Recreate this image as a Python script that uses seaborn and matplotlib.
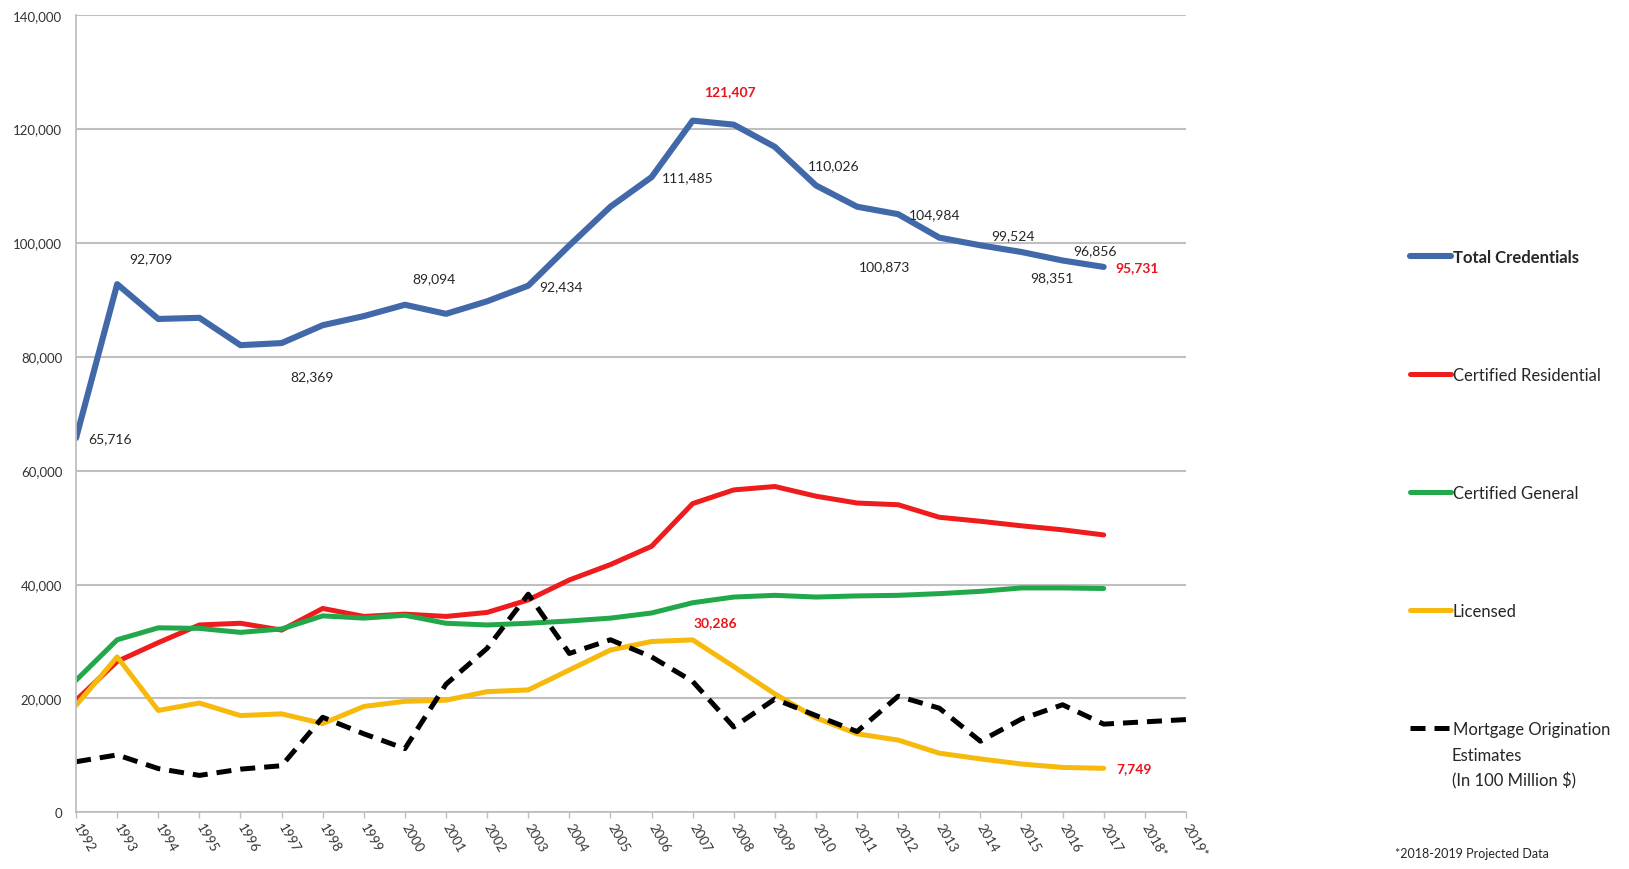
import numpy as np
import pandas as pd
import matplotlib
matplotlib.use('Agg')
import matplotlib.pyplot as plt
import seaborn as sns

# Data
years = ['1992', '1993', '1994', '1995', '1996', '1997', '1998', '1999', '2000',
         '2001', '2002', '2003', '2004', '2005', '2006', '2007', '2008', '2009',
         '2010', '2011', '2012', '2013', '2014', '2015', '2016', '2017',
         '2018*', '2019*']

total_credentials = [65716, 92709, 86600, 86800, 82000, 82369, 85500, 87100, 89094,
                     87500, 89700, 92434, 99500, 106300, 111485, 121407, 120700,
                     116800, 110026, 106300, 104984, 100873, 99524, 98351, 96856, 95731]
certified_residential = [19700, 26500, 29800, 32900, 33200, 32000, 35800, 34400, 34800,
                         34400, 35100, 37300, 40800, 43500, 46700, 54200, 56600,
                         57200, 55500, 54300, 54000, 51800, 51100, 50300, 49600, 48700]
certified_general = [23200, 30300, 32400, 32300, 31600, 32200, 34500, 34100, 34600,
                     33200, 32900, 33200, 33600, 34100, 35000, 36800, 37800, 38100,
                     37800, 38000, 38100, 38400, 38800, 39400, 39400, 39300]
licensed = [18800, 27300, 17900, 19200, 17000, 17300, 15600, 18600, 19500, 19700,
            21200, 21500, 25000, 28500, 30000, 30286, 25600, 20800, 16600, 13800,
            12700, 10400, 9400, 8500, 7900, 7749]
mortgage = [8900, 10100, 7700, 6500, 7600, 8200, 16700, 13800, 11200, 22500, 28800,
            38300, 27900, 30300, 27300, 23000, 15000, 19900, 17000, 14200, 20400,
            18300, 12500, 16400, 18900, 15500, 15900, 16300]

# data labels on the total line (year -> value shown), red ones highlighted
total_labels = ['1992', '1993', '1997', '2000', '2003', '2006', '2007', '2010',
                '2012', '2013', '2014', '2015', '2016', '2017']
red_labels = ['2007', '2017']

# label offsets in pixels (dx, dy) from the point, not data
offsets = {'1992': (34, 0), '1993': (34, 26), '1997': (30, -33), '2000': (29, 27),
           '2003': (33, 0), '2006': (36, 0), '2007': (37, 30), '2010': (18, 20),
           '2012': (36, 0), '2013': (-55, -29), '2014': (33, 10), '2015': (30, -25),
           '2016': (32, 10), '2017': (33, 0)}

sns.set_theme(style='white')
plt.rcParams['font.family'] = ['Lato', 'DejaVu Sans']

fig = plt.figure(figsize=(16.29, 8.70), dpi=100)
ax = fig.add_axes([0.0467, 0.065, 0.728 - 0.0467, 0.982 - 0.065])

x = np.arange(len(years))
n = len(total_credentials)

sns.lineplot(x=x[:n], y=total_credentials, ax=ax, color='#4169AA', linewidth=4.4,
             label='Total Credentials', legend=False)
sns.lineplot(x=x[:n], y=certified_residential, ax=ax, color='#EE1C1C', linewidth=3.6,
             label='Certified Residential', legend=False)
sns.lineplot(x=x[:n], y=certified_general, ax=ax, color='#21A84A', linewidth=3.6,
             label='Certified General', legend=False)
sns.lineplot(x=x[:n], y=licensed, ax=ax, color='#F6B90C', linewidth=3.6,
             label='Licensed', legend=False)
sns.lineplot(x=x, y=mortgage, ax=ax, color='black', linewidth=3.6,
             linestyle=(0, (3.0, 1.8)), label='Mortgage Origination', legend=False)

# data labels
for yr in total_labels:
    i = years.index(yr)
    v = total_credentials[i]
    red = yr in red_labels
    ax.annotate(f'{v:,}', (x[i], v), xytext=offsets[yr], textcoords='offset pixels',
                ha='center', va='center', fontsize=10,
                color='#E8141C' if red else '#262626',
                fontweight='bold' if red else 'normal')
i07 = years.index('2007')
ax.annotate(f'{licensed[i07]:,}', (x[i07], licensed[i07]), xytext=(23, 18),
            textcoords='offset pixels', ha='center', va='center', fontsize=10,
            color='#E8141C', fontweight='bold')
i17 = years.index('2017')
ax.annotate(f'{licensed[i17]:,}', (x[i17], licensed[i17]), xytext=(30, 0),
            textcoords='offset pixels', ha='center', va='center', fontsize=10,
            color='#E8141C', fontweight='bold')

# axes styling
ax.set_xlim(0, len(years) - 1)
ax.set_ylim(0, 140000)
ax.set_yticks(np.arange(0, 140001, 20000))
ax.set_yticklabels([f'{v:,}' for v in range(0, 140001, 20000)])
ax.set_xticks(x)
ax.set_xticklabels(years, rotation=-60, ha='left', va='center', rotation_mode='anchor')
ax.tick_params(axis='x', length=4, width=1, color='#BFBFBF', pad=4, labelsize=9.5,
               labelcolor='#333333', bottom=True)
ax.tick_params(axis='y', length=0, pad=10, labelsize=9.5, labelcolor='#333333')
ax.yaxis.grid(True, color='#BFBFBF', linewidth=1.5)
ax.set_axisbelow(True)
for s in ['top', 'right']:
    ax.spines[s].set_visible(False)
for s in ['left', 'bottom']:
    ax.spines[s].set_color('#BFBFBF')
    ax.spines[s].set_linewidth(1.3)
ax.set_xlabel('')
ax.set_ylabel('')

# legend on the right, widely spaced
leg = ax.legend(loc='upper left', bbox_to_anchor=(0.8656, 0.713),
                bbox_transform=fig.transFigure, frameon=False, fontsize=12,
                labelspacing=6.12, handlelength=2.45, handletextpad=0.1,
                borderpad=0, borderaxespad=0)
leg.get_texts()[0].set_fontweight('bold')
for t in leg.get_texts():
    t.set_color('#262626')

fig.text(0.8913, 0.140, 'Estimates\n(In 100 Million $)', fontsize=12,
         color='#262626', ha='left', va='top', linespacing=1.6)
fig.text(0.8564, 0.018, '*2018-2019 Projected Data', fontsize=9, color='#262626',
         ha='left', va='center')

fig.savefig('out.png', dpi=100)
